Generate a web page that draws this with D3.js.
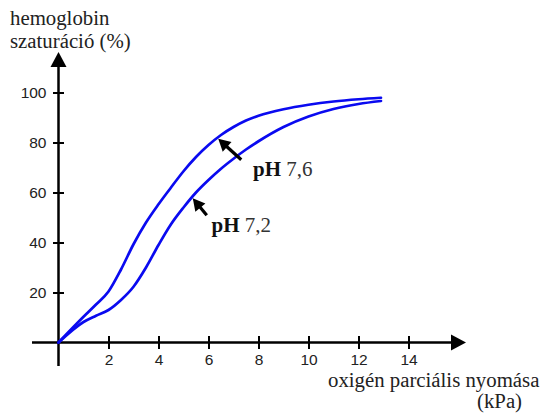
<!DOCTYPE html>
<html>
<head>
<meta charset="utf-8">
<script src="https://cdn.jsdelivr.net/npm/d3@7"></script>
<style>
  html, body { margin: 0; padding: 0; background: #fff; }
  svg { display: block; }
  .serif { font-family: "Liberation Serif", "Times New Roman", serif; }
</style>
</head>
<body>
<svg id="chart" width="547" height="413"></svg>
<script>
// Oxygen partial pressure (kPa) and haemoglobin saturation (%) for two pH values
const ph76X = [0, 1, 1.5, 2, 2.5, 3, 3.5, 4, 4.5, 5, 5.5, 6, 6.5, 7, 7.5, 8, 9, 10, 11, 12, 12.9];
const ph76Y = [0, 10.3, 15.2, 20.4, 29.2, 39.3, 48, 55.3, 62, 68.5, 74.2, 79, 83, 86.2, 88.8, 90.7, 93.3, 95.1, 96.4, 97.3, 97.9];

const ph72X = [0, 1, 1.5, 2, 2.5, 3, 3.5, 4, 4.5, 5, 5.5, 6, 6.5, 7, 7.5, 8, 9, 10, 11, 12, 12.9];
const ph72Y = [0, 8.2, 10.7, 13, 17, 22.3, 30, 39, 47.3, 54, 60, 65, 69.5, 73.5, 77.2, 80.5, 86.2, 90.4, 93.4, 95.4, 96.6];

const xTicks = [2, 4, 6, 8, 10, 12, 14];
const yTicks = [20, 40, 60, 80, 100];

// Annotation arrows: the pressure where each one touches its curve, and the labels
const arrowTipX = [6.35, 5.33];
const arrowCurve = ["ph76", "ph72"];
const labelText = ["7,6", "7,2"];

const svg = d3.select("#chart");

const x = d3.scaleLinear().domain([0, 14]).range([58.5, 408.5]);
const y = d3.scaleLinear().domain([0, 100]).range([342.5, 92.5]);

// ---- axes ----
const xAxis = svg.append("g")
  .attr("transform", `translate(0,${y(0)})`)
  .call(d3.axisBottom(x).tickValues(xTicks).tickSize(0).tickPadding(11).tickFormat(d3.format("d")));
xAxis.select(".domain").remove();
xAxis.selectAll(".tick line").attr("y1", -6.5).attr("y2", 6.5).attr("stroke", "#000").attr("stroke-width", 2);

const yAxis = svg.append("g")
  .attr("transform", `translate(${x(0)},0)`)
  .call(d3.axisLeft(y).tickValues(yTicks).tickSize(0).tickPadding(12).tickFormat(d3.format("d")));
yAxis.select(".domain").remove();
yAxis.selectAll(".tick line").attr("x1", -5.5).attr("x2", 5.5).attr("stroke", "#000").attr("stroke-width", 2);

[xAxis, yAxis].forEach(g => g.selectAll(".tick text")
  .style("font-family", "'Liberation Sans', Arial, sans-serif")
  .style("font-size", "15.5px")
  .attr("fill", "#222"));

// main axis lines with arrowheads
svg.append("line")
  .attr("x1", 32).attr("x2", 453).attr("y1", y(0)).attr("y2", y(0))
  .attr("stroke", "#000").attr("stroke-width", 2.5);
svg.append("path")
  .attr("d", `M466,${y(0)} L451,${y(0) - 8} L451,${y(0) + 8} Z`)
  .attr("fill", "#000");

svg.append("line")
  .attr("x1", x(0)).attr("x2", x(0)).attr("y1", 366).attr("y2", 66)
  .attr("stroke", "#000").attr("stroke-width", 2.5);
svg.append("path")
  .attr("d", `M${x(0)},52 L${x(0) - 8},67 L${x(0) + 8},67 Z`)
  .attr("fill", "#000");

// ---- curves ----
const line = d3.line()
  .x(d => x(d[0]))
  .y(d => y(d[1]))
  .curve(d3.curveMonotoneX);

const curves = {
  ph76: d3.zip(ph76X, ph76Y),
  ph72: d3.zip(ph72X, ph72Y)
};

const paths = {};
Object.entries(curves).forEach(([name, pts]) => {
  paths[name] = svg.append("path")
    .attr("d", line(pts))
    .attr("fill", "none")
    .attr("stroke", "#0a0af0")
    .attr("stroke-width", 2.7)
    .attr("stroke-linecap", "round");
});

// screen y of a drawn curve at a given pressure
function curveY(name, px) {
  const node = paths[name].node();
  const target = x(px);
  let lo = 0, hi = node.getTotalLength();
  for (let i = 0; i < 40; i++) {
    const mid = (lo + hi) / 2;
    if (node.getPointAtLength(mid).x < target) lo = mid; else hi = mid;
  }
  return node.getPointAtLength(lo).y;
}

// ---- arrows and labels ----
const arrowLen = [[23, 21], [14, 17]];
arrowTipX.forEach((tx, i) => {
  const tipX = x(tx) + 1;
  const tipY = curveY(arrowCurve[i], tx) + 1;
  const [dx, dy] = arrowLen[i];
  const ang = Math.atan2(dy, dx);
  const headLen = 12, headW = 6.5;
  const bx = tipX + headLen * Math.cos(ang), by = tipY + headLen * Math.sin(ang);
  const nx = -Math.sin(ang), ny = Math.cos(ang);
  svg.append("line")
    .attr("x1", bx - Math.cos(ang)).attr("y1", by - Math.sin(ang))
    .attr("x2", tipX + dx).attr("y2", tipY + dy)
    .attr("stroke", "#000").attr("stroke-width", 3.2);
  svg.append("path")
    .attr("d", `M${tipX},${tipY} L${bx + nx * headW},${by + ny * headW} L${bx - nx * headW},${by - ny * headW} Z`)
    .attr("fill", "#000");
});

const labelPos = [[253, 176], [211.5, 232]];
labelText.forEach((t, i) => {
  const txt = svg.append("text")
    .attr("class", "serif")
    .attr("x", labelPos[i][0]).attr("y", labelPos[i][1])
    .attr("font-size", 21)
    .attr("fill", "#111");
  txt.append("tspan").attr("font-weight", "bold").text("pH ");
  txt.append("tspan").attr("fill", "#333").text(t);
});

// ---- axis titles ----
svg.append("text").attr("class", "serif")
  .attr("x", 10).attr("y", 25).attr("font-size", 20.8).attr("fill", "#222")
  .text("hemoglobin");
svg.append("text").attr("class", "serif")
  .attr("x", 10).attr("y", 48).attr("font-size", 20.8).attr("fill", "#222")
  .text("szaturáció (%)");

svg.append("text").attr("class", "serif")
  .attr("x", 328).attr("y", 387).attr("font-size", 20.8).attr("fill", "#222")
  .text("oxigén parciális nyomása");
svg.append("text").attr("class", "serif")
  .attr("x", 477).attr("y", 408).attr("font-size", 20.8).attr("fill", "#222")
  .text("(kPa)");
</script>
</body>
</html>
